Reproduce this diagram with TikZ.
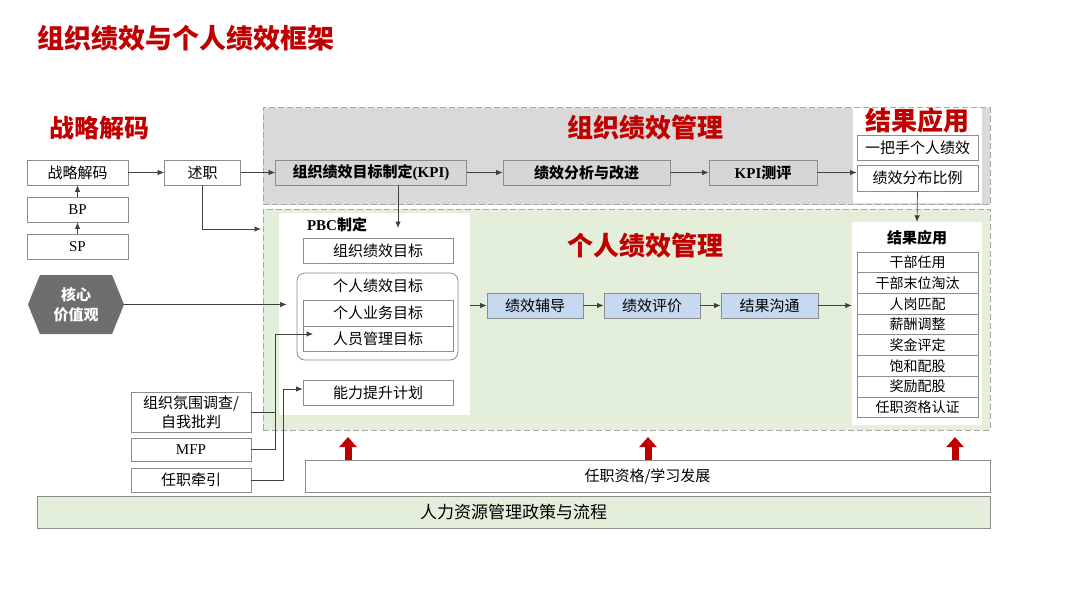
\documentclass[tikz,border=0pt]{standalone}
\usepackage{fontspec}
\setmainfont{Liberation Serif}
\newfontfamily\cjk{Noto Sans CJK SC}
\usetikzlibrary{arrows.meta,shapes.symbols}
\definecolor{tred}{HTML}{C00000}
\definecolor{arrred}{HTML}{C00000}
\definecolor{regiongray}{HTML}{D9D9D9}
\definecolor{regiongreen}{HTML}{E3EFDA}
\definecolor{bordergray}{HTML}{8C8C8C}
\definecolor{dashgray}{HTML}{A6A6A6}
\definecolor{boxgrayfill}{HTML}{D6D6D6}
\definecolor{boxblue}{HTML}{C6D9F0}
\definecolor{hexgray}{HTML}{6E6E6E}
\definecolor{linec}{HTML}{404040}
\begin{document}
\begin{tikzpicture}[x=1pt,y=-1pt,
  font=\cjk\fontsize{15}{17}\selectfont,
  bx/.style={draw=bordergray, fill=white, inner sep=0pt, minimum height=25pt, line width=0.8pt},
  gbx/.style={bx, fill=boxgrayfill, draw=bordergray},
  bbx/.style={bx, fill=boxblue, draw=bordergray},
  region/.style={draw=dashgray, dash pattern=on 6pt off 3pt, line width=1pt, inner sep=0pt},
  panel/.style={fill=white, inner sep=0pt},
  arr/.style={draw=linec, line width=0.7pt, -{Latex[length=6.5pt,width=5.5pt]}},
  ln/.style={draw=linec, line width=0.7pt},
  redarr/.style={draw=arrred, line width=7pt, -{Triangle[length=10pt,width=17pt]}},
  rtitle/.style={text=tred, font=\cjk\bfseries\fontsize{26}{28}\selectfont, inner sep=0pt},
  lst/.style={bx, minimum width=121pt, minimum height=20.7pt, font=\cjk\fontsize{14}{16}\selectfont}
]
\useasboundingbox (0,0) rectangle (1080,608);

% title
\node[rtitle, anchor=west, font=\cjk\bfseries\fontsize{27}{29}\selectfont] (title) at (37,38) {组织绩效与个人绩效框架};

% left strategy decoding
\node[rtitle, font=\cjk\bfseries\fontsize{25}{27}\selectfont] (sdtitle) at (99,128) {战略解码};
\node[bx, minimum width=101pt] (sd) at (77.5,172.5) {战略解码};
\node[bx, minimum width=101pt, font=\rmfamily\fontsize{15}{17}\selectfont] (bp) at (77.5,209.5) {BP};
\node[bx, minimum width=101pt, font=\rmfamily\fontsize{15}{17}\selectfont] (sp) at (77.5,246.5) {SP};
\node[bx, minimum width=76pt] (sz) at (202.5,172.5) {述职};

% regions
\node[region, fill=regiongray, minimum width=727pt, minimum height=97pt] (orgreg) at (626.5,156) {};
\node[region, fill=regiongreen, minimum width=727pt, minimum height=221pt] (indreg) at (626.5,319.5) {};

% org performance management
\node[rtitle] (orgtitle) at (645,128) {组织绩效管理};
\node[gbx, minimum width=191pt] (kpi) at (371,172.5) {\bfseries 组织绩效目标制定\rmfamily\bfseries(KPI)};
\node[gbx, minimum width=167pt] (fx) at (586.5,172.5) {\bfseries 绩效分析与改进};
\node[gbx, minimum width=108pt] (kcp) at (763,172.5) {\rmfamily\bfseries KPI\cjk\bfseries 测评};

\node[panel, minimum width=129pt, minimum height=95pt] (res1) at (917.5,155.5) {};
\node[rtitle] (res1t) at (917,121) {结果应用};
\node[bx, minimum width=121pt] (yb) at (917.5,147.5) {一把手个人绩效};
\node[bx, minimum width=121pt, minimum height=26pt] (fb) at (917.5,178) {绩效分布比例};

% individual performance management
\node[rtitle] (indtitle) at (645,246) {个人绩效管理};
\node[panel, minimum width=191pt, minimum height=202pt] (pbc) at (374.5,314) {};
\node[inner sep=0pt, font=\rmfamily\bfseries\fontsize{15}{17}\selectfont] (pbct) at (337,225) {PBC\cjk\bfseries 制定};
\node[bx, minimum width=150pt] (zzmb) at (378,250.5) {组织绩效目标};
\node[draw=bordergray, line width=0.8pt, rounded corners=8pt, minimum width=161pt, minimum height=87pt, inner sep=0pt] (grbox) at (377.5,316.5) {};
\node[inner sep=0pt] (grt) at (378,286) {个人绩效目标};
\node[bx, minimum width=150pt, minimum height=26pt] (yw) at (378,313) {个人业务目标};
\node[bx, minimum width=150pt] (ry) at (378,338.5) {人员管理目标};
\node[bx, minimum width=150pt] (nl) at (378,392.5) {能力提升计划};

\node[bbx, minimum width=96pt] (fd) at (535,305.5) {绩效辅导};
\node[bbx, minimum width=96pt] (pj) at (652,305.5) {绩效评价};
\node[bbx, minimum width=97pt] (gt) at (769.5,305.5) {结果沟通};

\node[panel, minimum width=130pt, minimum height=203pt] (res2) at (917,323.5) {};
\node[inner sep=0pt, font=\cjk\bfseries\fontsize{15}{17}\selectfont] (res2t) at (917,238) {结果应用};
\foreach \t [count=\i] in {干部任用,干部末位淘汰,人岗匹配,薪酬调整,奖金评定,饱和配股,奖励配股,任职资格认证}{
  \node[lst] (l\i) at (917.5,{252+10.35+20.7*(\i-1)}) {\t};
}

% core values hexagon
\node[signal, signal to=west and east, signal pointer angle=136, fill=hexgray, draw=none,
      minimum width=96pt, minimum height=59pt, inner sep=0pt, text=white, align=center,
      font=\cjk\bfseries\fontsize{15}{20}\selectfont] (hex) at (76,304.5) {核心\\价值观};

% left-bottom inputs
\node[bx, minimum width=120pt, minimum height=40pt, align=center, font=\cjk\fontsize{15}{19}\selectfont] (zzfw) at (191,412) {组织氛围调查/\\自我批判};
\node[bx, minimum width=120pt, minimum height=23pt, font=\rmfamily\fontsize{15}{17}\selectfont] (mfp) at (191,449.5) {MFP};
\node[bx, minimum width=120pt, minimum height=24pt] (rzqy) at (191,480) {任职牵引};

% bottom bars
\node[bx, minimum width=685pt, minimum height=32pt] (rzzg) at (647.5,476) {任职资格/学习发展};
\node[bx, fill=regiongreen, minimum width=953pt, minimum height=32pt, font=\cjk\fontsize{17}{19}\selectfont] (hr) at (513.5,512) {人力资源管理政策与流程};

% coordinates
\coordinate (gin) at (261,229);
\coordinate (kd) at (398,228);
\coordinate (j1) at (275,334);
\coordinate (rytip) at (313,334);
\coordinate (j2) at (283,389);
\coordinate (u1) at (348,437);
\coordinate (u2) at (648,437);
\coordinate (u3) at (955,437);

% connectors
\draw[arr] (sp.north) -- (bp.south);
\draw[arr] (bp.north) -- (sd.south);
\draw[arr] (sd.east) -- (sz.west);
\draw[arr] (sz.east) -- (kpi.west);
\draw[arr] (sz.south) |- (gin);
\draw[arr] (kpi.east) -- (fx.west);
\draw[arr] (fx.east) -- (kcp.west);
\draw[arr] (kcp.east) -- (kcp.east -| fb.west);
\draw[arr] (kpi.south -| kd) -- (kd);
\draw[arr] (fb.south) -- (res2.north);
\draw[arr, shorten >=10pt] (hex.east) -- (hex.east -| grbox.west);
\draw[arr] (fd.west -| pbc.east) -- (fd.west);
\draw[arr] (fd.east) -- (pj.west);
\draw[arr] (pj.east) -- (gt.west);
\draw[arr] (gt.east) -- (gt.east -| res2.west);
\draw[ln] (zzfw.east) -- (zzfw.east -| j1);
\draw[arr] (mfp.east) -| (j1) -- (rytip);
\draw[arr] (rzqy.east) -| (j2) -- (j2 -| nl.west);

% red arrows
\draw[redarr] (rzzg.north -| u1) -- (u1);
\draw[redarr] (rzzg.north -| u2) -- (u2);
\draw[redarr] (rzzg.north -| u3) -- (u3);
\end{tikzpicture}
\end{document}
